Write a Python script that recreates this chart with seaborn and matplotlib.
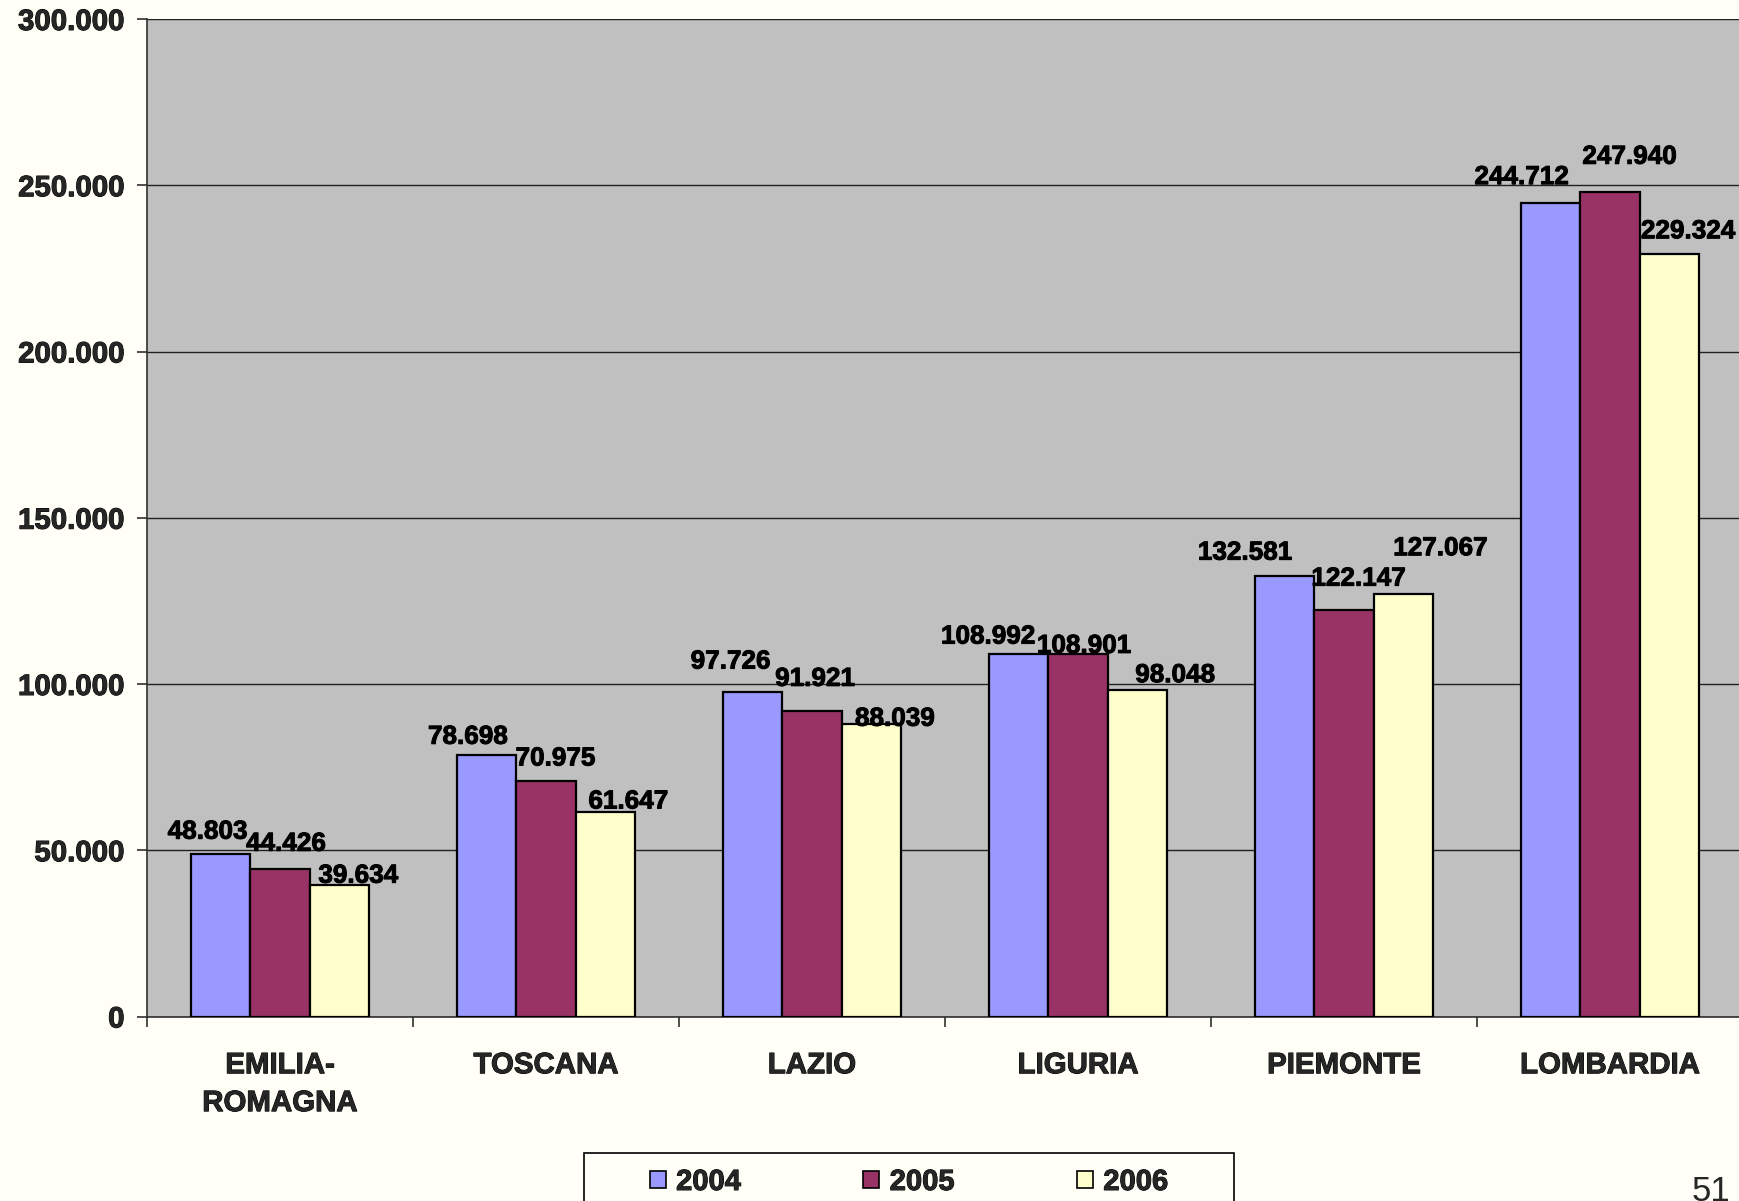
import numpy as np
import pandas as pd
import matplotlib
matplotlib.use("Agg")
import matplotlib.pyplot as plt
from matplotlib.patches import Patch, Rectangle
from matplotlib.ticker import FuncFormatter, FixedLocator
import matplotlib.patheffects as pe
import seaborn as sns

# ---- data ----
regions = ["EMILIA-\nROMAGNA", "TOSCANA", "LAZIO", "LIGURIA", "PIEMONTE", "LOMBARDIA"]
years = ["2004", "2005", "2006"]
v2004 = [48803, 78698, 97726, 108992, 132581, 244712]
v2005 = [44426, 70975, 91921, 108901, 122147, 247940]
v2006 = [39634, 61647, 88039, 98048, 127067, 229324]
yticks = [0, 50000, 100000, 150000, 200000, 250000, 300000]

# label offsets (pixels, relative to bar top-centre), styling only
label_dx = {
    "2004": [-13, -18.7, -22, -30.5, -39.5, -29],
    "2005": [6, 9.5, 3, 6, 14.5, 19.5],
    "2006": [19, 23, 23.5, 37.7, 37, 18.7],
}
label_dy = {
    "2004": [-24.5, -20, -32, -19.5, -25, -27.7],
    "2005": [-27, -24, -34, -10.5, -33.7, -37.3],
    "2006": [-11, -12, -7, -17.3, -47.7, -24.7],
}

colors = {"2004": "#9999FF", "2005": "#993366", "2006": "#FFFFCC"}
bg = "#FFFFF7"

W, H, DPI = 1739, 1201, 100
sns.set_style("white")
plt.rcParams["font.family"] = ["Liberation Sans", "DejaVu Sans"]
heavy = [pe.withStroke(linewidth=0.7, foreground="black")]

df = pd.DataFrame({
    "region": regions * 3,
    "year": sum([[y] * len(regions) for y in years], []),
    "value": v2004 + v2005 + v2006,
})

fig = plt.figure(figsize=(W / DPI, H / DPI), dpi=DPI, facecolor=bg)
ax = fig.add_axes([147 / W, 1 - 1016.5 / H, 1596 / W, (1016.5 - 19) / H])
ax.set_facecolor("#C0C0C0")

sns.barplot(data=df, x="region", y="value", hue="year", hue_order=years,
            order=regions, palette=colors, width=0.67, gap=0,
            edgecolor="black", linewidth=1.6, saturation=1, legend=False,
            ax=ax, zorder=3)

ax.set_xlim(-0.5, len(regions) - 0.5)
ax.set_ylim(0, 300000)
ax.set_yticks(yticks)
ax.yaxis.set_major_formatter(FuncFormatter(lambda v, p: f"{int(v):,}".replace(",", ".")))
ax.grid(axis="y", color="#202020", linewidth=1.0, zorder=1)
ax.set_axisbelow(True)
ax.set_xlabel("")
ax.set_ylabel("")

for s in ["top", "right"]:
    ax.spines[s].set_visible(False)
ax.spines["left"].set_color("#303030")
ax.spines["left"].set_linewidth(1.2)
ax.spines["bottom"].set_color("#303030")
ax.spines["bottom"].set_linewidth(1.2)

ax.tick_params(axis="y", length=7.2, width=1.2, color="#303030", pad=9,
               labelsize=21.2, direction="out", left=True)
for t in ax.get_yticklabels():
    t.set_fontweight("bold")
    t.set_path_effects(heavy)
ax.tick_params(axis="x", which="major", length=0, pad=25, labelsize=21.2)
for t in ax.get_xticklabels():
    t.set_fontweight("bold")
    t.set_linespacing(1.45)
    t.set_path_effects(heavy)
ax.xaxis.set_minor_locator(FixedLocator(np.arange(-0.5, len(regions), 1.0)))
ax.tick_params(axis="x", which="minor", length=7.2, width=1.2, color="#303030",
               direction="out", bottom=True)

# data labels
for cont, yr in zip(ax.containers, years):
    for i, bar in enumerate(cont):
        xc = bar.get_x() + bar.get_width() / 2
        top = bar.get_height()
        dx = label_dx[yr][i] * 0.72
        dy = -(label_dy[yr][i] + 9.0) * 0.72
        ax.annotate(f"{int(round(top)):,}".replace(",", "."), xy=(xc, top),
                    xytext=(dx, dy), textcoords="offset points",
                    ha="center", va="baseline", fontsize=18.8,
                    fontweight="bold", color="black", zorder=5,
                    annotation_clip=False, path_effects=heavy)

# legend
handles = [Patch(facecolor=colors[y], edgecolor="black", linewidth=1.2) for y in years]
leg = fig.legend(handles, years, ncol=3, loc="center",
                 bbox_to_anchor=(909 / W, 1 - 1182 / H), frameon=False,
                 prop={"size": 21, "weight": "bold"}, handlelength=0.55,
                 handleheight=0.55, handletextpad=0.35, columnspacing=4.2)
for t in leg.get_texts():
    t.set_path_effects(heavy)
fig.patches.append(Rectangle((584 / W, -0.05), (1234 - 584) / W, 0.05 + (1201 - 1153) / H,
                             transform=fig.transFigure, fill=False,
                             edgecolor="black", linewidth=1.2))

fig.text(1730 / W, 0.0, "51", ha="right", va="baseline", fontsize=25)

fig.savefig("out.png", dpi=DPI, facecolor=bg)
